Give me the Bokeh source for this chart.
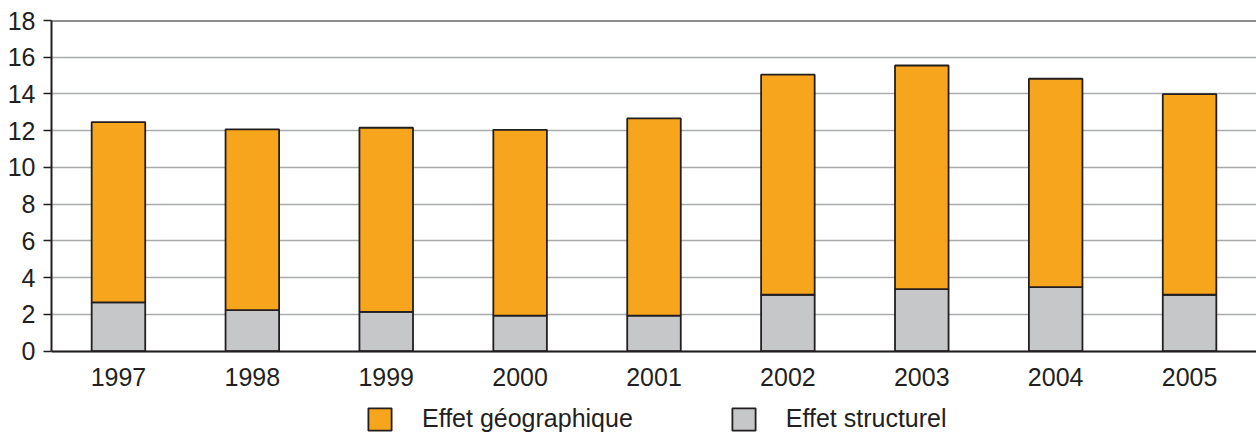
from bokeh.plotting import figure
from bokeh.models import FactorRange, Range1d, Span, Legend, LegendItem, ColumnDataSource
from bokeh.embed import file_html
from bokeh.resources import INLINE

years = ["1997", "1998", "1999", "2000", "2001", "2002", "2003", "2004", "2005"]
effet_structurel = [2.65, 2.23, 2.14, 1.93, 1.93, 3.07, 3.38, 3.48, 3.07]
effet_geographique = [9.82, 9.84, 10.02, 10.12, 10.74, 11.98, 12.17, 11.35, 10.92]
y_ticks = [0, 2, 4, 6, 8, 10, 12, 14, 16, 18]

ORANGE = "#f6a51d"
GREY = "#c6c7c9"
INK = "#231f20"
FONT = "Liberation Sans"
FONT_SIZE = "25px"

source = ColumnDataSource(dict(
    years=years,
    structurel=effet_structurel,
    geographique=effet_geographique,
))

# the plot area runs to the bottom of the page; the space under zero holds
# the year labels and the legend
p = figure(
    x_range=FactorRange(factors=years, range_padding=0),
    y_range=Range1d(-4.43, 18),
    width=1256, height=432,
    output_backend="svg", toolbar_location=None,
    min_border_left=51, min_border_right=0,
    min_border_top=20, min_border_bottom=0,
)
p.outline_line_color = None
p.background_fill_color = "white"

renderers = p.vbar_stack(
    ["structurel", "geographique"], x="years", width=0.4, source=source,
    fill_color=[GREY, ORANGE], line_color=INK, line_width=1.8,
)

# dark frame line along the top of the plot area
p.add_layout(Span(location=18, dimension="width", line_color=INK, line_width=2))

p.xgrid.grid_line_color = None
p.ygrid.grid_line_color = "#a9aaad"
p.ygrid.grid_line_width = 1.6
p.ygrid.ticker = y_ticks

p.yaxis.ticker = y_ticks
p.yaxis.bounds = (0, 18)
p.yaxis.axis_line_color = INK
p.yaxis.axis_line_width = 2
p.yaxis.major_tick_line_color = INK
p.yaxis.major_tick_line_width = 1.6
p.yaxis.major_tick_out = 8
p.yaxis.major_tick_in = 0
p.yaxis.minor_tick_line_color = None
p.yaxis.major_label_standoff = 8

p.xaxis.fixed_location = 0
p.xaxis.axis_line_color = INK
p.xaxis.axis_line_width = 2
p.xaxis.major_tick_line_color = None
p.xaxis.minor_tick_line_color = None
p.xaxis.major_label_standoff = 11

for ax in (p.xaxis, p.yaxis):
    ax.major_label_text_font = FONT
    ax.major_label_text_font_size = FONT_SIZE
    ax.major_label_text_color = INK

legend = Legend(
    items=[
        LegendItem(label="Effet géographique", renderers=[renderers[1]]),
        LegendItem(label="Effet structurel", renderers=[renderers[0]]),
    ],
    orientation="horizontal",
    location=(314, -1),
    glyph_width=29, glyph_height=28,
    label_standoff=28, spacing=96,
    padding=0, margin=0,
    label_text_font=FONT, label_text_font_size=FONT_SIZE, label_text_color=INK,
    border_line_color=None, background_fill_alpha=0,
)
p.add_layout(legend, "center")

open("out.html", "w").write(file_html(p, INLINE))
